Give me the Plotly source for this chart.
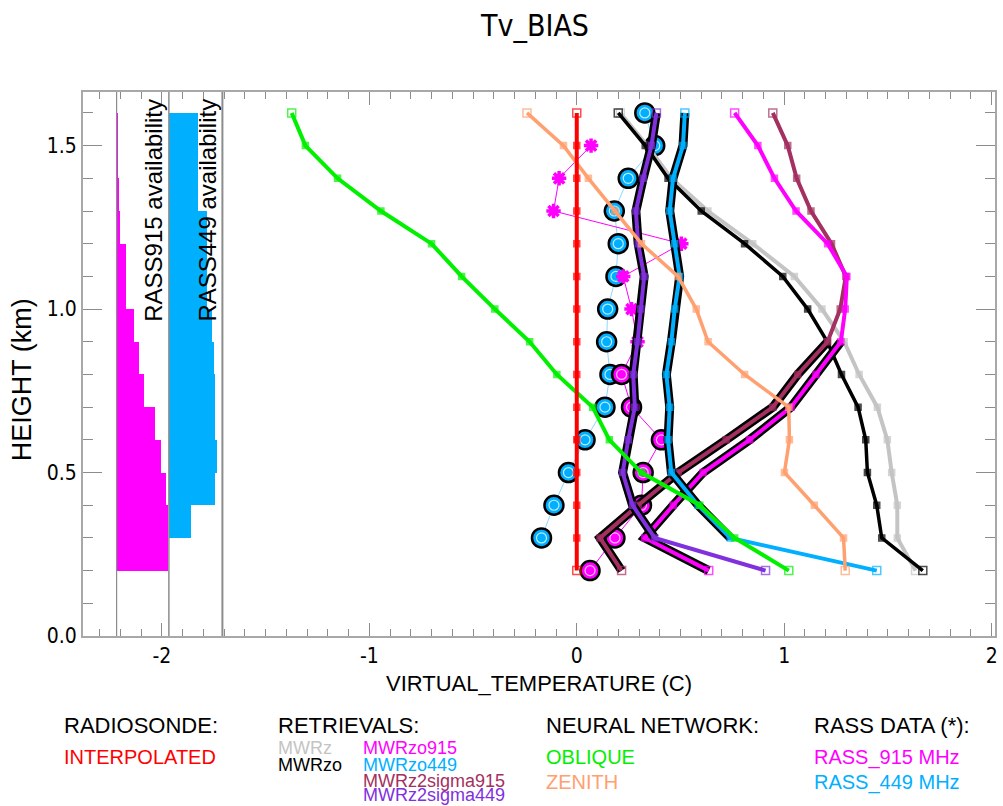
import plotly.graph_objects as go

# ---------------------------------------------------------------- data
heights = [0.2, 0.3, 0.4, 0.5, 0.6, 0.7, 0.8, 0.9, 1.0, 1.1, 1.2, 1.3, 1.4, 1.5, 1.6]

radiosonde = [0.0] * 15
oblique = [1.022, 0.761, 0.593, 0.312, 0.157, 0.077, -0.096, -0.227, -0.395, -0.555,
           -0.700, -0.944, -1.153, -1.308, -1.374]
zenith = [1.294, 1.286, 1.145, 1.001, 1.025, 1.022, 0.809, 0.633, 0.576, 0.488,
          0.312, 0.184, 0.056, -0.064, -0.240]
mwrz = [1.633, 1.545, 1.545, 1.518, 1.497, 1.449, 1.361, 1.289, 1.182, 1.049,
        0.848, 0.632, 0.456, 0.340, 0.210]
mwrzo = [1.668, 1.470, 1.446, 1.401, 1.393, 1.356, 1.276, 1.208, 1.113, 0.993,
         0.809, 0.600, 0.440, 0.330, 0.200]
mwrzo915 = [0.636, 0.328, 0.465, 0.609, 0.833, 1.033, 1.153, 1.273, 1.294, 1.302,
            1.209, 1.057, 0.953, 0.873, 0.761]
mwrzo449 = [1.446, 0.740, 0.585, 0.456, 0.440, 0.448, 0.432, 0.456, 0.472, 0.496,
            0.472, 0.448, 0.464, 0.512, 0.521]
mwrz2sigma915 = [0.216, 0.112, 0.296, 0.489, 0.720, 0.945, 1.065, 1.209, 1.270, 1.297,
                 1.228, 1.129, 1.060, 1.017, 0.945]
mwrz2sigma449 = [0.910, 0.376, 0.269, 0.221, 0.248, 0.280, 0.272, 0.293, 0.309, 0.325,
                 0.296, 0.285, 0.320, 0.360, 0.384]
rass915 = [0.064, 0.184, 0.312, 0.320, 0.408, 0.264, 0.216, 0.293, 0.264, 0.224,
           0.504, -0.112, -0.085, 0.069, None]
rass449 = [None, -0.170, -0.110, -0.040, 0.040, 0.136, 0.160, 0.144, 0.149, 0.189,
           0.200, 0.181, 0.248, 0.376, 0.328]

# availability (fraction of profiles) per 100 m layer, layer bottoms 0.2 .. 1.5 km
layer_bottoms = [0.2, 0.3, 0.4, 0.5, 0.6, 0.7, 0.8, 0.9, 1.0, 1.1, 1.2, 1.3, 1.4, 1.5]
avail915 = [0.98, 0.98, 0.95, 0.85, 0.74, 0.52, 0.43, 0.33, 0.17, 0.17, 0.06, 0.04, 0.03, 0.02]
avail449 = [0.00, 0.41, 0.86, 0.89, 0.86, 0.86, 0.85, 0.80, 0.72, 0.72, 0.72, 0.55, 0.55, 0.55]

x_ticks = [-2, -1, 0, 1, 2]
x_tick_text = ["-2", "-1", "0", "1", "2"]
y_ticks = [0.0, 0.5, 1.0, 1.5]
y_tick_text = ["0.0", "0.5", "1.0", "1.5"]

# ---------------------------------------------------------------- style
RED = "#ff0000"
GREEN = "#00f000"
SALMON = "#ffa070"
GRAY = "#c4c4c4"
BLACK = "#000000"
MAGENTA = "#ff00ff"
CYAN = "#00b0ff"
MAROON = "#a33060"
PURPLE = "#8030dd"
LIGHTBLUE = "#8fd8ff"

NARROW = "Liberation Sans Narrow, DejaVu Sans Condensed, Liberation Sans, Arial, sans-serif"
SANS = "Liberation Sans, Arial, Helvetica, sans-serif"

X_RANGE = [-2.38, 2.016]
Y_RANGE = [0.0, 1.664]
COL915 = (-2.218, -1.966)   # availability column for the 915 MHz RASS
COL449 = (-1.966, -1.708)   # availability column for the 449 MHz RASS
GOOD = 0.4                  # availability needed to flag a layer as well sampled

W, H = 1003, 806
ML, MR, MT, MB = 83, 5, 92, 170

fig = go.Figure()

# ---------------------------------------------------------------- availability bars
for avail, (left, right), colour in ((avail915, COL915, MAGENTA), (avail449, COL449, CYAN)):
    fig.add_trace(go.Bar(
        orientation="h",
        y=[b + 0.05 for b in layer_bottoms],
        x=[a * (right - left) for a in avail],
        base=left,
        width=0.1,
        marker=dict(color=colour, line=dict(width=0)),
        hoverinfo="skip",
    ))


def well_sampled_levels(avail):
    """A level is well sampled when the layer above it passes GOOD
    (the top level uses the layer below it)."""
    flags = []
    for i in range(len(heights)):
        a = avail[i] if i < len(avail) else avail[-1]
        flags.append(a >= GOOD)
    return flags


def outline_runs(values, avail):
    """Contiguous runs of layers whose availability passes GOOD."""
    runs, cur = [], None
    for i, a in enumerate(avail):
        if a >= GOOD:
            if cur is None:
                cur = [i, i + 1]
            else:
                cur[1] = i + 1
        else:
            if cur is not None:
                runs.append(cur)
                cur = None
    if cur is not None:
        runs.append(cur)
    xs, ys = [], []
    for a, b in runs:
        xs += values[a:b + 1] + [None]
        ys += heights[a:b + 1] + [None]
    return xs, ys


# ---------------------------------------------------------------- RASS observations
for vals, avail, fill, thin in ((rass449, avail449, CYAN, LIGHTBLUE),
                               (rass915, avail915, MAGENTA, MAGENTA)):
    flags = well_sampled_levels(avail)
    fig.add_trace(go.Scatter(x=vals, y=heights, mode="lines",
                             line=dict(color=thin, width=1), connectgaps=False,
                             hoverinfo="skip"))
    cx = [v if f else None for v, f in zip(vals, flags)]
    ax = [v if not f else None for v, f in zip(vals, flags)]
    fig.add_trace(go.Scatter(x=cx, y=heights, mode="markers",
                             marker=dict(symbol="circle", size=19, color=fill,
                                         line=dict(color=BLACK, width=2.5)),
                             hoverinfo="skip"))
    fig.add_trace(go.Scatter(x=cx, y=heights, mode="markers",
                             marker=dict(symbol="circle-open", size=10,
                                         color="rgba(255,255,255,0.75)",
                                         line=dict(width=1.2)),
                             hoverinfo="skip"))
    fig.add_trace(go.Scatter(x=ax, y=heights, mode="markers",
                             marker=dict(symbol="asterisk-open", size=12, color=fill,
                                         line=dict(color=fill, width=3.5)),
                             hoverinfo="skip"))


# ---------------------------------------------------------------- profiles
def end_symbols(n):
    return ["square-open"] + ["square"] * (n - 2) + ["square-open"]


def end_sizes(n):
    return [8] + [6] * (n - 2) + [8]


def profile(values, colour, width=4, avail=None):
    if avail is not None:
        ox, oy = outline_runs(values, avail)
        fig.add_trace(go.Scatter(x=ox, y=oy, mode="lines",
                                 line=dict(color=BLACK, width=width + 5),
                                 connectgaps=False, hoverinfo="skip"))
    n = len(values)
    fig.add_trace(go.Scatter(
        x=values, y=heights, mode="lines+markers",
        line=dict(color=colour, width=width),
        marker=dict(symbol=end_symbols(n), size=end_sizes(n), color=colour,
                    line=dict(color=colour, width=1.5)),
        hoverinfo="skip",
    ))


profile(mwrz, GRAY, 4)
profile(mwrzo, BLACK, 3.5)
profile(mwrz2sigma915, MAROON, 4, avail915)
profile(mwrzo915, MAGENTA, 4, avail915)
profile(mwrz2sigma449, PURPLE, 4, avail449)
profile(mwrzo449, CYAN, 4, avail449)
profile(zenith, SALMON, 3.5)
profile(oblique, GREEN, 4)
profile(radiosonde, RED, 4)

# ---------------------------------------------------------------- availability column borders
for xv, lw in ((COL915[0], 1.2), (COL915[1], 1.5), (COL449[1], 2)):
    fig.add_shape(type="line", xref="x", yref="paper", x0=xv, x1=xv, y0=0, y1=1,
                  line=dict(color="#8c8c8c", width=lw), layer="above")

# ---------------------------------------------------------------- text
PW = W - ML - MR
PH = H - MT - MB


def at(px, py):
    return dict(xref="paper", yref="paper", x=(px - ML) / PW, y=(H - MB - py) / PH)


def label(text, px, py, size, colour=BLACK, family=SANS, angle=0,
          xanchor="left", yanchor="middle"):
    fig.add_annotation(text=text, showarrow=False, font=dict(size=size, color=colour, family=family),
                       textangle=angle, xanchor=xanchor, yanchor=yanchor, borderpad=0,
                       **at(px, py))


label("Tv_BIAS", 536, 25, 30, family=NARROW, xanchor="center")
label("HEIGHT (km)", 22, 380, 27, angle=-90, xanchor="center")
label("VIRTUAL_TEMPERATURE (C)", 540, 683, 22, xanchor="center")
label("RASS915 availability", 153, 210, 24, angle=-90, xanchor="center")
label("RASS449 availability", 207, 210, 24, angle=-90, xanchor="center")

label("RADIOSONDE:", 63, 725, 22)
label("INTERPOLATED", 63, 757, 20, RED)
label("RETRIEVALS:", 278, 725, 22)
label("MWRz", 278, 748, 18, GRAY)
label("MWRzo", 278, 765, 18, BLACK)
label("MWRzo915", 363, 748, 18, MAGENTA)
label("MWRzo449", 363, 765, 18, CYAN)
label("MWRz2sigma915", 363, 781, 18, MAROON)
label("MWRz2sigma449", 363, 806, 18, PURPLE, yanchor="bottom")
label("NEURAL NETWORK:", 547, 725, 22)
label("OBLIQUE", 547, 757, 20, GREEN)
label("ZENITH", 547, 782, 20, SALMON)
label("RASS DATA (*):", 815, 725, 22)
label("RASS_915 MHz", 815, 757, 20, MAGENTA)
label("RASS_449 MHz", 815, 782, 20, CYAN)

# ---------------------------------------------------------------- axes
axis_common = dict(
    showgrid=False, zeroline=False, showline=True, linecolor="#a8a8a8", linewidth=2,
    mirror="ticks", ticks="inside", tickcolor="#8c8c8c", tickwidth=1,
    tickfont=dict(family=NARROW, size=21, color=BLACK),
)

fig.update_layout(
    width=W, height=H,
    margin=dict(l=ML, r=MR, t=MT, b=MB),
    paper_bgcolor="white", plot_bgcolor="white",
    showlegend=False, barmode="overlay", bargap=0,
    xaxis=dict(range=X_RANGE, tickmode="array", tickvals=x_ticks, ticktext=x_tick_text,
               ticklen=13, minor=dict(dtick=0.1, tick0=0, ticks="inside", ticklen=7,
                                      tickcolor="#8c8c8c"),
               **axis_common),
    yaxis=dict(range=Y_RANGE, tickmode="array", tickvals=y_ticks, ticktext=y_tick_text,
               ticklen=19, minor=dict(dtick=0.1, tick0=0, ticks="inside", ticklen=10,
                                      tickcolor="#8c8c8c"),
               **axis_common),
)

fig.write_html("out.html")
